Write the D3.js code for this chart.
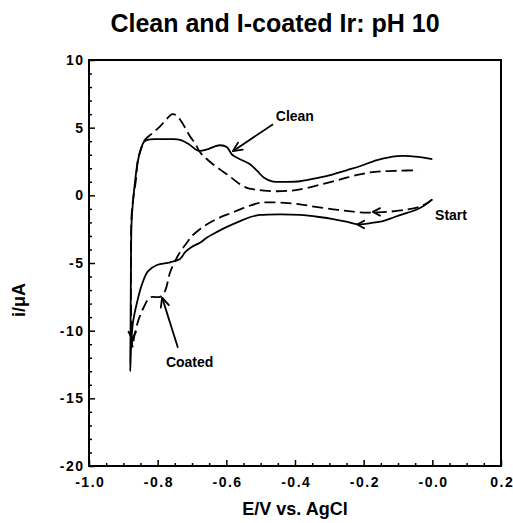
<!DOCTYPE html>
<html>
<head>
<meta charset="utf-8">
<script src="https://cdn.jsdelivr.net/npm/d3@7"></script>
<style>
  html, body { margin: 0; padding: 0; background: #fff; }
  svg { display: block; font-family: "Liberation Sans", Arial, Helvetica, sans-serif; }
  .tick text { font-weight: bold; font-size: 14px; letter-spacing: 1.5px; fill: #000; }
</style>
</head>
<body>
<svg id="chart" width="513" height="523"></svg>
<script>
// Cyclic voltammograms, scan order: start near 0 V, sweep cathodic to -0.88 V, then back.
const cleanScan = [
  [0.0,-0.3],[-0.01,-0.5],[-0.027,-0.8],[-0.05,-1.1],[-0.074,-1.3],[-0.11,-1.6],[-0.144,-1.9],
  [-0.18,-2.05],[-0.211,-2.15],[-0.25,-1.95],[-0.289,-1.75],[-0.33,-1.6],[-0.385,-1.45],[-0.44,-1.4],
  [-0.502,-1.45],[-0.53,-1.6],[-0.56,-1.9],[-0.6,-2.35],[-0.627,-2.7],[-0.655,-3.1],[-0.677,-3.5],
  [-0.7,-3.8],[-0.72,-4.2],[-0.735,-4.7],[-0.764,-4.95],[-0.802,-5.15],[-0.828,-5.6],[-0.846,-6.6],
  [-0.86,-7.9],[-0.872,-9.4],[-0.877,-11],[-0.88,-13],
  [-0.879,-10],[-0.878,-6],[-0.876,-2],[-0.872,-0.5],[-0.866,1],[-0.858,2.5],[-0.848,3.5],
  [-0.84,3.95],[-0.83,4.1],[-0.8,4.15],[-0.76,4.15],[-0.735,4.1],[-0.71,3.8],[-0.682,3.3],
  [-0.656,3.4],[-0.635,3.6],[-0.618,3.7],[-0.598,3.55],[-0.583,3.0],[-0.56,2.67],[-0.531,2.3],
  [-0.51,1.8],[-0.49,1.3],[-0.467,1.04],[-0.43,1.0],[-0.385,1.04],[-0.33,1.3],[-0.289,1.55],
  [-0.25,1.85],[-0.211,2.15],[-0.161,2.6],[-0.103,2.9],[-0.065,2.9],[-0.03,2.8],[0.0,2.67]
];

const coatedScan = [
  [0.0,-0.3],[-0.02,-0.65],[-0.045,-0.9],[-0.074,-1.04],[-0.12,-1.2],[-0.161,-1.26],[-0.211,-1.26],
  [-0.25,-1.15],[-0.289,-1.04],[-0.34,-0.85],[-0.385,-0.67],[-0.43,-0.55],[-0.48,-0.52],[-0.502,-0.55],
  [-0.53,-0.75],[-0.56,-1.04],[-0.59,-1.35],[-0.618,-1.63],[-0.65,-2.05],[-0.677,-2.5],[-0.7,-3.0],
  [-0.715,-3.5],[-0.735,-4.2],[-0.75,-4.9],[-0.764,-5.7],[-0.779,-7.1],[-0.793,-7.5],[-0.822,-7.55],
  [-0.843,-8.4],[-0.857,-9.3],[-0.868,-10.4],[-0.873,-11.2],
  [-0.877,-9],[-0.878,-5],[-0.876,-1.5],[-0.87,0],[-0.864,1.0],[-0.857,2.67],[-0.846,3.6],
  [-0.837,4.1],[-0.815,4.6],[-0.793,5.1],[-0.775,5.6],[-0.758,6.0],[-0.745,5.9],[-0.735,5.6],
  [-0.72,5.0],[-0.706,4.37],[-0.69,3.8],[-0.677,3.2],[-0.66,2.75],[-0.639,2.3],[-0.618,1.9],
  [-0.598,1.55],[-0.58,1.2],[-0.56,0.81],[-0.54,0.55],[-0.52,0.44],[-0.49,0.35],[-0.452,0.3],
  [-0.41,0.35],[-0.385,0.44],[-0.34,0.7],[-0.289,1.04],[-0.25,1.3],[-0.211,1.55],[-0.18,1.7],
  [-0.144,1.78],[-0.1,1.82],[-0.042,1.85]
];

const xTickValues = [-1.0, -0.8, -0.6, -0.4, -0.2, 0.0, 0.2];
const xTickLabels = ["-1.0", "-0.8", "-0.6", "-0.4", "-0.2", "-0.0", "0.2"];
const yTickValues = [10, 5, 0, -5, -10, -15, -20];
const yTickLabels = ["10", "5", "0", "-5", "-10", "-15", "-20"];

const titleText = "Clean and I-coated Ir: pH 10";
const xTitle = "E/V vs. AgCl";
const yTitle = "i/\u03BCA";

// Callouts: label text, label anchor and leader line end points in data units.
const callouts = [
  { text: "Clean",  label: [-0.456, 5.5],  from: [-0.464, 5.26],  to: [-0.581, 3.26] },
  { text: "Coated", label: [-0.776, -12.7], from: [-0.741, -11.26], to: [-0.787, -7.56] }
];
const startLabel = { text: "Start", at: [0.008, -1.8] };
// Direction arrows on the cathodic branches: tip position and heading (degrees).
const scanArrows = [
  { at: [-0.219, -2.15], heading: 180 },
  { at: [-0.173, -1.22], heading: 180 },
  { at: [-0.874, -10.6], heading: 90 }
];

const svg = d3.select("#chart");
const plotLeft = 89, plotRight = 501, plotTop = 60, plotBottom = 466;

const x = d3.scaleLinear().domain([-1.0, 0.2]).range([plotLeft, plotRight]);
const y = d3.scaleLinear().domain([-20, 10]).range([plotBottom, plotTop]);

// Title and axis titles
svg.append("text")
  .attr("x", 275).attr("y", 32)
  .attr("text-anchor", "middle")
  .attr("font-weight", "bold").attr("font-size", 25)
  .text(titleText);

svg.append("text")
  .attr("x", (plotLeft + plotRight) / 2).attr("y", 515)
  .attr("text-anchor", "middle")
  .attr("font-weight", "bold").attr("font-size", 18)
  .text(xTitle);

svg.append("text")
  .attr("transform", "translate(25,300) rotate(-90)")
  .attr("text-anchor", "middle")
  .attr("font-weight", "bold").attr("font-size", 18)
  .text(yTitle);

// Axes with inward ticks
const xMinor = d3.range(-1.0, 0.2001, 0.05).filter(v => Math.abs(Math.round(v * 5) - v * 5) > 1e-6);
const yMinor = d3.range(-20, 10.001, 1).filter(v => v % 5 !== 0);

svg.append("g").attr("transform", `translate(0,${plotBottom})`)
  .call(d3.axisBottom(x).tickValues(xMinor).tickSize(-3).tickFormat(""))
  .call(g => g.select(".domain").remove())
  .selectAll("line").attr("stroke-width", 1.5);

svg.append("g").attr("transform", `translate(0,${plotBottom})`)
  .call(d3.axisBottom(x).tickValues(xTickValues).tickSize(-6).tickPadding(11)
        .tickFormat((d, i) => xTickLabels[i]))
  .call(g => g.select(".domain").remove())
  .call(g => g.selectAll("line").attr("stroke-width", 1.5))
  .call(g => g.selectAll("text").attr("font-family", null).attr("font-size", null)
        .attr("dx", "0.75px"));

svg.append("g").attr("transform", `translate(${plotLeft},0)`)
  .call(d3.axisLeft(y).tickValues(yMinor).tickSize(-3).tickFormat(""))
  .call(g => g.select(".domain").remove())
  .selectAll("line").attr("stroke-width", 1.5);

svg.append("g").attr("transform", `translate(${plotLeft},0)`)
  .call(d3.axisLeft(y).tickValues(yTickValues).tickSize(-6).tickPadding(4.5)
        .tickFormat((d, i) => yTickLabels[i]))
  .call(g => g.select(".domain").remove())
  .call(g => g.selectAll("line").attr("stroke-width", 1.5))
  .call(g => g.selectAll("text").attr("font-family", null).attr("font-size", null));

// Plot frame
svg.append("rect")
  .attr("x", plotLeft).attr("y", plotTop)
  .attr("width", plotRight - plotLeft).attr("height", plotBottom - plotTop)
  .attr("fill", "none").attr("stroke", "#000").attr("stroke-width", 2);

// Voltammogram traces
const line = d3.line().x(d => x(d[0])).y(d => y(d[1])).curve(d3.curveCatmullRom.alpha(0.5));

svg.append("path").datum(cleanScan)
  .attr("d", line)
  .attr("fill", "none").attr("stroke", "#000").attr("stroke-width", 1.8)
  .attr("stroke-linejoin", "round");

svg.append("path").datum(coatedScan)
  .attr("d", line)
  .attr("fill", "none").attr("stroke", "#000").attr("stroke-width", 1.8)
  .attr("stroke-dasharray", "11,5");

// Open arrowhead drawn at a tip, pointing along heading
function arrowHead(px, py, headingDeg, len = 8, spread = 28) {
  const a = headingDeg * Math.PI / 180;
  const back1 = a + Math.PI - spread * Math.PI / 180;
  const back2 = a + Math.PI + spread * Math.PI / 180;
  const p1 = [px + len * Math.cos(back1), py + len * Math.sin(back1)];
  const p2 = [px + len * Math.cos(back2), py + len * Math.sin(back2)];
  svg.append("path")
    .attr("d", `M${p1[0]},${p1[1]}L${px},${py}L${p2[0]},${p2[1]}`)
    .attr("fill", "none").attr("stroke", "#000").attr("stroke-width", 1.8)
    .attr("stroke-linecap", "round").attr("stroke-linejoin", "round");
}

callouts.forEach(c => {
  const x1 = x(c.from[0]), y1 = y(c.from[1]), x2 = x(c.to[0]), y2 = y(c.to[1]);
  svg.append("line")
    .attr("x1", x1).attr("y1", y1).attr("x2", x2).attr("y2", y2)
    .attr("stroke", "#000").attr("stroke-width", 1.8);
  arrowHead(x2, y2, Math.atan2(y2 - y1, x2 - x1) * 180 / Math.PI, 10, 25);
  svg.append("text")
    .attr("x", x(c.label[0])).attr("y", y(c.label[1]))
    .attr("font-weight", "bold").attr("font-size", 14)
    .text(c.text);
});

svg.append("text")
  .attr("x", x(startLabel.at[0])).attr("y", y(startLabel.at[1]))
  .attr("font-weight", "bold").attr("font-size", 14)
  .text(startLabel.text);

scanArrows.forEach(a => arrowHead(x(a.at[0]), y(a.at[1]), a.heading));
</script>
</body>
</html>
